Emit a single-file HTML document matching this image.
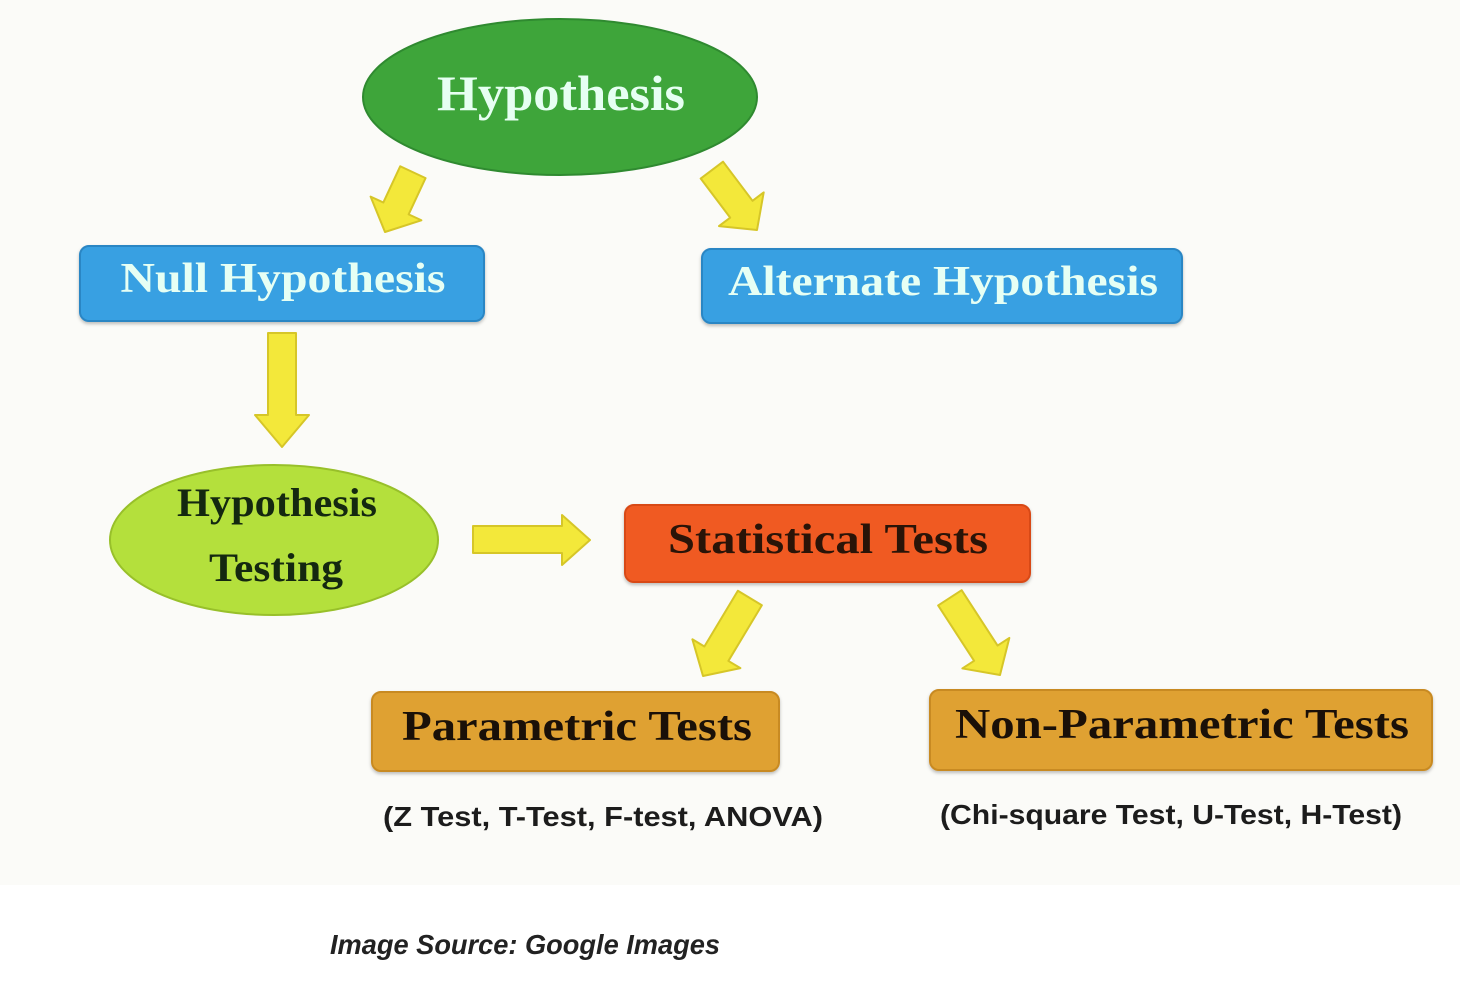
<!DOCTYPE html>
<html><head><meta charset="utf-8"><style>
html,body{margin:0;padding:0;background:#fff;}
svg{display:block;}
</style></head><body>
<svg width="1460" height="988" viewBox="0 0 1460 988" xmlns="http://www.w3.org/2000/svg">
<defs>
<filter id="sh" x="-10%" y="-10%" width="120%" height="130%"><feDropShadow dx="0" dy="2" stdDeviation="1.5" flood-color="#000" flood-opacity="0.25"/></filter>
</defs>
<rect x="0" y="0" width="1460" height="885" fill="#fbfbf8"/>
<g fill="#f3e83a" stroke="#d6c628" stroke-width="2" stroke-linejoin="round">
<polygon transform="translate(385,232) rotate(25)" points="-14,-66 14,-66 14,-26 28,-26 0,0 -28,-26 -14,-26"/>
<polygon transform="translate(757,230) rotate(-37)" points="-14,-75 14,-75 14,-26 28,-26 0,0 -28,-26 -14,-26"/>
<polygon transform="translate(703,676) rotate(31)" points="-14,-91 14,-91 14,-26 28,-26 0,0 -28,-26 -14,-26"/>
<polygon transform="translate(1000,675) rotate(-33)" points="-14,-92 14,-92 14,-26 28,-26 0,0 -28,-26 -14,-26"/>
<polygon transform="translate(282,447)" points="-14,-114 14,-114 14,-32 27,-32 0,0 -27,-32 -14,-32"/>
<polygon points="473,526 562,526 562,515 590,540 562,565 562,553 473,553"/>
</g>
<ellipse cx="560" cy="97" rx="197" ry="78" fill="#3ea53a" stroke="#2f8a30" stroke-width="2"/>
<text x="561" y="110" text-anchor="middle" font-family="Liberation Serif, serif" font-weight="bold" font-size="50" fill="#e6fff2" textLength="248" lengthAdjust="spacingAndGlyphs">Hypothesis</text>
<rect x="80" y="246" width="404" height="75" rx="9" fill="#38a0e2" stroke="#2a86c4" stroke-width="2" filter="url(#sh)"/>
<text x="283" y="292" text-anchor="middle" font-family="Liberation Serif, serif" font-weight="bold" font-size="42" fill="#e6fff4" textLength="325" lengthAdjust="spacingAndGlyphs">Null Hypothesis</text>
<rect x="702" y="249" width="480" height="74" rx="9" fill="#38a0e2" stroke="#2a86c4" stroke-width="2" filter="url(#sh)"/>
<text x="943" y="295" text-anchor="middle" font-family="Liberation Serif, serif" font-weight="bold" font-size="42" fill="#e6fff4" textLength="430" lengthAdjust="spacingAndGlyphs">Alternate Hypothesis</text>
<ellipse cx="274" cy="540" rx="164" ry="75" fill="#b4e03c" stroke="#98c02a" stroke-width="2"/>
<text x="277" y="516" text-anchor="middle" font-family="Liberation Serif, serif" font-weight="bold" font-size="40" fill="#142810" textLength="200" lengthAdjust="spacingAndGlyphs">Hypothesis</text>
<text x="276" y="581" text-anchor="middle" font-family="Liberation Serif, serif" font-weight="bold" font-size="40" fill="#142810" textLength="134" lengthAdjust="spacingAndGlyphs">Testing</text>
<rect x="625" y="505" width="405" height="77" rx="9" fill="#f05a22" stroke="#d84a18" stroke-width="2" filter="url(#sh)"/>
<text x="828" y="553" text-anchor="middle" font-family="Liberation Serif, serif" font-weight="bold" font-size="42" fill="#2a1408" textLength="320" lengthAdjust="spacingAndGlyphs">Statistical Tests</text>
<rect x="372" y="692" width="407" height="79" rx="9" fill="#dfa132" stroke="#c88a22" stroke-width="2" filter="url(#sh)"/>
<text x="577" y="740" text-anchor="middle" font-family="Liberation Serif, serif" font-weight="bold" font-size="42" fill="#1a1008" textLength="350" lengthAdjust="spacingAndGlyphs">Parametric Tests</text>
<rect x="930" y="690" width="502" height="80" rx="9" fill="#dfa132" stroke="#c88a22" stroke-width="2" filter="url(#sh)"/>
<text x="1182" y="738" text-anchor="middle" font-family="Liberation Serif, serif" font-weight="bold" font-size="42" fill="#1a1008" textLength="454" lengthAdjust="spacingAndGlyphs">Non-Parametric Tests</text>
<text x="603" y="826" text-anchor="middle" font-family="Liberation Sans, sans-serif" font-weight="bold" font-size="28" fill="#1c1c1c" textLength="440" lengthAdjust="spacingAndGlyphs">(Z Test, T-Test, F-test, ANOVA)</text>
<text x="1171" y="824" text-anchor="middle" font-family="Liberation Sans, sans-serif" font-weight="bold" font-size="28" fill="#1c1c1c" textLength="462" lengthAdjust="spacingAndGlyphs">(Chi-square Test, U-Test, H-Test)</text>
<text x="525" y="954" text-anchor="middle" font-family="Liberation Sans, sans-serif" font-weight="bold" font-style="italic" font-size="28" fill="#222" textLength="390" lengthAdjust="spacingAndGlyphs">Image Source: Google Images</text>
</svg>
</body></html>
